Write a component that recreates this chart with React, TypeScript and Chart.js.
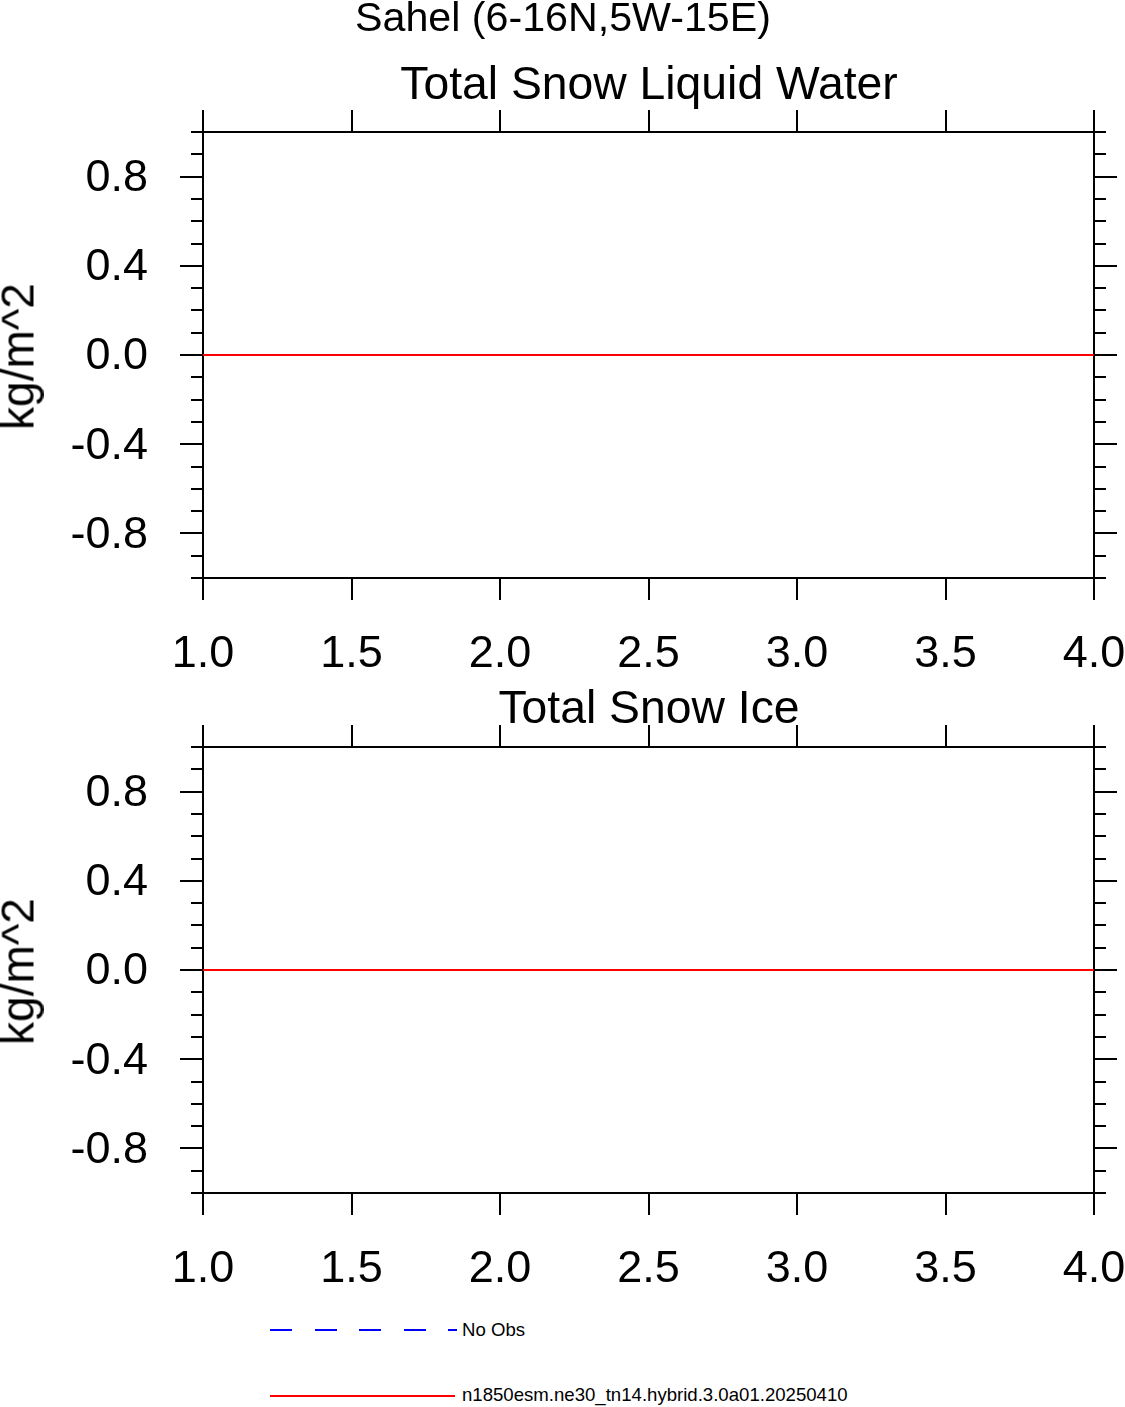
import React, { useEffect, useRef } from "react";
import { Chart, registerables } from "chart.js";

Chart.register(...registerables);

// ---------- data ----------
const suptitle = "Sahel (6-16N,5W-15E)";
const panelTitles = ["Total Snow Liquid Water", "Total Snow Ice"];
const yAxisTitle = "kg/m^2";
const xYears = [1, 2, 3, 4];
const snowLiquidWater = [0, 0, 0, 0];
const snowIce = [0, 0, 0, 0];
const xTicks = [1.0, 1.5, 2.0, 2.5, 3.0, 3.5, 4.0];
const yMajorTicks = [-0.8, -0.4, 0.0, 0.4, 0.8];
const yMinorTicks = [
  -1.0, -0.9, -0.8, -0.7, -0.6, -0.5, -0.4, -0.3, -0.2, -0.1, 0.0,
  0.1, 0.2, 0.3, 0.4, 0.5, 0.6, 0.7, 0.8, 0.9, 1.0,
];
const legendLabels = ["No Obs", "n1850esm.ne30_tn14.hybrid.3.0a01.20250410"];

const FONT = '"Liberation Sans", Arial, Helvetica, sans-serif';
const W = 1125;
const CANVAS_H = 690;
const TICK_FONT = 45;

const minorTickPlugin = {
  id: "minorTicks",
  afterDraw(chart: any) {
    const ys = chart.scales.y;
    const { ctx, chartArea } = chart;
    ctx.save();
    ctx.strokeStyle = "#000";
    ctx.lineWidth = 2;
    ctx.beginPath();
    for (const v of yMinorTicks) {
      const p = Math.round(ys.getPixelForValue(v));
      ctx.moveTo(chartArea.left - 12, p);
      ctx.lineTo(chartArea.left, p);
      ctx.moveTo(chartArea.right, p);
      ctx.lineTo(chartArea.right + 12, p);
    }
    ctx.stroke();
    ctx.restore();
  },
};

function Panel({ values, top, label }: { values: number[]; top: number; label: string }) {
  const ref = useRef<HTMLCanvasElement | null>(null);
  useEffect(() => {
    if (!ref.current) return;
    const grid = {
      display: true,
      drawOnChartArea: false,
      drawTicks: true,
      tickLength: 22,
      color: "#000",
      lineWidth: 2,
    };
    const border = { display: true, color: "#000", width: 2 };
    const setX = (s: any) => {
      s.ticks = xTicks.map((v) => ({ value: v }));
    };
    const setY = (s: any) => {
      s.ticks = yMajorTicks.map((v) => ({ value: v }));
    };
    const chart = new Chart(ref.current, {
      type: "line",
      data: {
        datasets: [
          {
            label,
            data: xYears.map((x, i) => ({ x, y: values[i] })),
            borderColor: "#ff0000",
            borderWidth: 2,
            pointRadius: 0,
            xAxisID: "x",
            yAxisID: "y",
          },
        ],
      },
      options: {
        animation: false,
        responsive: false,
        devicePixelRatio: 1,
        layout: { padding: 0 },
        plugins: {
          legend: { display: false },
          tooltip: { enabled: false },
          title: { display: false },
        },
        scales: {
          x: {
            type: "linear",
            position: "bottom",
            min: 1,
            max: 4,
            afterBuildTicks: setX,
            ticks: {
              font: { size: TICK_FONT, family: FONT },
              color: "#000",
              padding: 28,
              maxRotation: 0,
              autoSkip: false,
              callback: (v: any) => Number(v).toFixed(1),
            },
            grid,
            border,
            afterFit: (s: any) => {
              s.height = 112;
              s.paddingLeft = 0;
              s.paddingRight = 0;
            },
          },
          x2: {
            type: "linear",
            position: "top",
            min: 1,
            max: 4,
            afterBuildTicks: setX,
            ticks: { display: false },
            grid,
            border,
            afterFit: (s: any) => {
              s.height = 132;
              s.paddingLeft = 0;
              s.paddingRight = 0;
            },
          },
          y: {
            type: "linear",
            position: "left",
            min: -1,
            max: 1,
            afterBuildTicks: setY,
            ticks: {
              font: { size: TICK_FONT, family: FONT },
              color: "#000",
              padding: 32,
              labelOffset: 2,
              autoSkip: false,
              callback: (v: any) => Number(v).toFixed(1),
            },
            grid: { ...grid, tickLength: 23 },
            border,
            afterFit: (s: any) => {
              s.width = 203;
              s.paddingTop = 0;
              s.paddingBottom = 0;
            },
          },
          y2: {
            type: "linear",
            position: "right",
            min: -1,
            max: 1,
            afterBuildTicks: setY,
            ticks: { display: false },
            grid: { ...grid, tickLength: 23 },
            border,
            afterFit: (s: any) => {
              s.width = 31;
              s.paddingTop = 0;
              s.paddingBottom = 0;
            },
          },
        },
      } as any,
      plugins: [minorTickPlugin],
    });
    return () => chart.destroy();
  }, [values, label]);
  return (
    <canvas
      ref={ref}
      width={W}
      height={CANVAS_H}
      style={{ position: "absolute", left: 0, top, width: W, height: CANVAS_H }}
    />
  );
}

function Text({
  text,
  size,
  baseline,
  center,
  left,
}: {
  text: string;
  size: number;
  baseline: number;
  center?: number;
  left?: number;
}) {
  const top = baseline - 0.8465 * size;
  const style: React.CSSProperties = {
    position: "absolute",
    top,
    fontFamily: FONT,
    fontSize: size,
    lineHeight: `${size}px`,
    whiteSpace: "nowrap",
    color: "#000",
  };
  if (center !== undefined) {
    style.left = center - 500;
    style.width = 1000;
    style.textAlign = "center";
  } else {
    style.left = left;
  }
  return <div style={style}>{text}</div>;
}

function YTitle({ cy }: { cy: number }) {
  return (
    <div
      style={{
        position: "absolute",
        left: 18.4 - 150,
        top: cy - 22.5,
        width: 300,
        height: 45,
        lineHeight: "45px",
        fontSize: 46,
        fontFamily: FONT,
        textAlign: "center",
        transform: "rotate(-90deg)",
        whiteSpace: "nowrap",
        color: "#000",
      }}
    >
      {yAxisTitle}
    </div>
  );
}

export default function App() {
  const panel2Offset = 615;
  return (
    <div
      style={{
        position: "absolute",
        left: 0,
        top: 0,
        width: W,
        height: 1407,
        background: "#fff",
        overflow: "hidden",
      }}
    >
      <Panel values={snowLiquidWater} top={0} label={legendLabels[1]} />
      <Panel values={snowIce} top={panel2Offset} label={legendLabels[1]} />
      <Text text={suptitle} size={41.2} baseline={32} center={563} />
      <Text text={panelTitles[0]} size={46.3} baseline={99} center={649} />
      <Text text={panelTitles[1]} size={46.3} baseline={723} center={649} />
      <YTitle cy={356} />
      <YTitle cy={356 + panel2Offset} />
      {/* legend */}
      <div
        style={{
          position: "absolute",
          left: 270,
          top: 1329,
          width: 187,
          height: 2,
          background:
            "repeating-linear-gradient(to right, #0000ff 0px, #0000ff 22px, transparent 22px, transparent 44.6px)",
        }}
      />
      <Text text={legendLabels[0]} size={18.6} baseline={1337} left={462} />
      <div
        style={{
          position: "absolute",
          left: 270,
          top: 1395,
          width: 185,
          height: 2,
          background: "#ff0000",
        }}
      />
      <Text text={legendLabels[1]} size={18.6} baseline={1402} left={462} />
    </div>
  );
}
